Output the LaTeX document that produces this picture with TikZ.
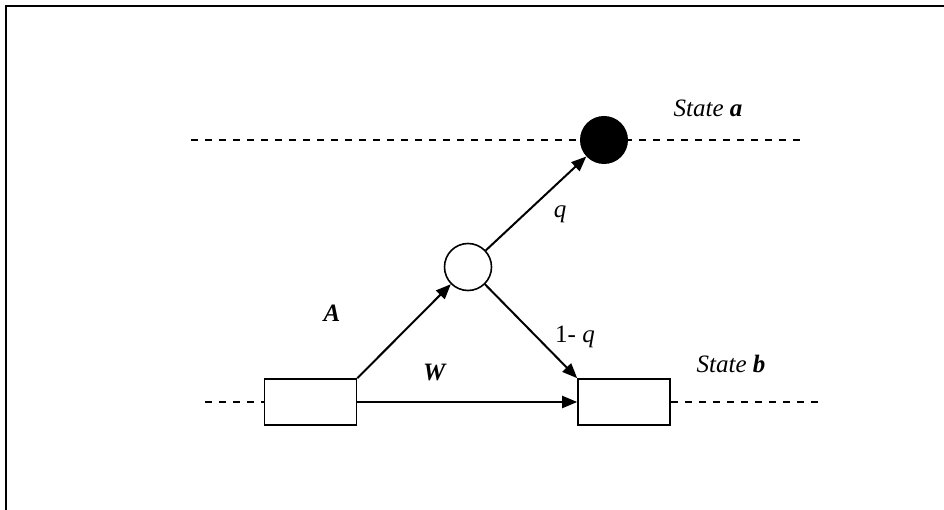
\documentclass[tikz,border=0pt]{standalone}
\usepackage{fontspec}
\setmainfont{Liberation Serif}
\usepackage{xcolor}
\usepackage{tikz}
\usetikzlibrary{arrows.meta}

\tikzset{
  statebox/.style={draw,line width=1.6pt,minimum width=92pt,minimum height=46pt,inner sep=0pt},
  chancenode/.style={circle,draw,line width=1.6pt,fill=white,minimum size=47pt,inner sep=0pt},
  endnode/.style={circle,fill=black,minimum size=48pt,inner sep=0pt},
  dashline/.style={line width=1.6pt,dash pattern=on 7pt off 7pt},
  flow/.style={line width=2pt,-{Triangle[length=15pt,width=12pt]}},
  lbl/.style={inner sep=0pt,font=\fontsize{25}{30}\selectfont}
}

\begin{document}
\begin{tikzpicture}[x=1pt,y=1pt,yscale=-1]
\useasboundingbox (0,0) rectangle (944,510);

%Shape: Frame
\draw[line width=2pt] (6,6) rectangle (980,560);

%Shape: state lines
\coordinate (ta0) at (191,140);
\coordinate (ta1) at (800,140);
\coordinate (tb0) at (205,402);
\coordinate (tb1) at (818,402);
\draw[dashline] (ta0) -- (ta1);

%Shape: boxes and circles
\node[statebox] (wait) at (310.5,402) {};
\node[statebox] (stb) at (624,402) {};
\node[chancenode] (chance) at (468,267) {};
\node[endnode] (sta) at (604,140) {};

\draw[dashline] (tb0) -- (wait.west);
\draw[dashline] (stb.east) -- (tb1);

%Arrows
\draw[flow] (wait.north east) -- (chance);
\draw[flow] (chance) -- (sta);
\draw[flow] (chance) -- (stb.north west);
\draw[flow] (wait.east) -- (stb.west);

% Text Node
\node[lbl] (la) at (332,313) {\textbf{\textit{A}}};
% Text Node
\node[lbl] (lw) at (435,373) {\textbf{\textit{W}}};
% Text Node
\node[lbl] (lq) at (560,214) {\textit{q}};
% Text Node
\node[lbl] (lnq) at (575,337) {1- \textit{q}};
% Text Node
\node[lbl] (lsa) at (708,108) {\textit{State \textbf{a}}};
% Text Node
\node[lbl] (lsb) at (731,364) {\textit{State \textbf{b}}};

\end{tikzpicture}
\end{document}
